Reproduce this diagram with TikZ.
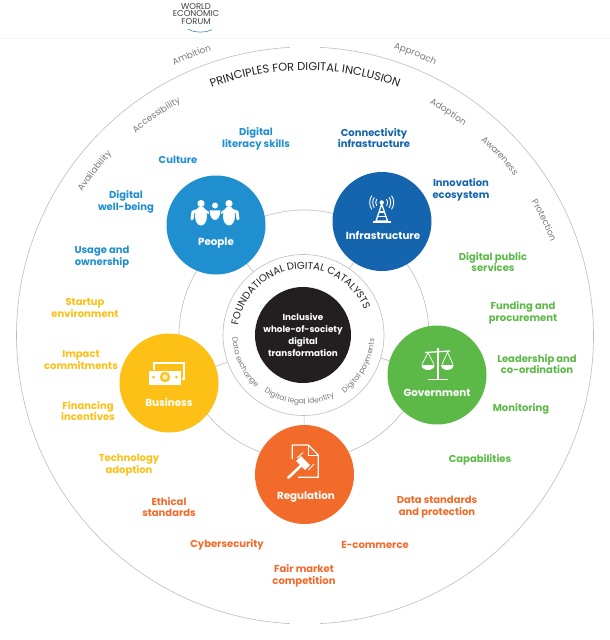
\documentclass[tikz,border=0pt]{standalone}
\usepackage{fontspec}
\setmainfont{Poppins}
\usetikzlibrary{decorations.text}
\definecolor{cPeople}{HTML}{1F8FD0}
\definecolor{cInfra}{HTML}{1565AE}
\definecolor{cGov}{HTML}{5CB947}
\definecolor{cBiz}{HTML}{FDC016}
\definecolor{cReg}{HTML}{F26B2A}
\definecolor{cDark}{HTML}{231F20}
\definecolor{cRing}{HTML}{BDBDBD}
\definecolor{cGrey}{HTML}{7A7A7A}
\newcommand{\lblfont}{\fontsize{10}{11.8}\selectfont\bfseries}
\newcommand{\grayfont}{\fontsize{8.9}{8.9}\selectfont\color{cGrey}}
\newcommand{\smallgray}{\fontsize{7.5}{7.5}\selectfont\color{cGrey}}
\newcommand{\blackfont}{\fontsize{11.4}{11.4}\selectfont\color{cDark}}
\newcommand{\onarc}[5]{\path[decorate,decoration={text along path,text align=center,text={|#5|#4}}]
  (305,-335.5)++(#1+#2:#3) arc[start angle=#1+#2,end angle=#1-#2,radius=#3];}
\tikzset{
  x=1pt,y=1pt,
  lbl/.style={align=center,inner sep=0pt,font=\lblfont},
  hub/.style={circle,inner sep=0pt,minimum size=#1},
  pillar/.style={hub=99},
  captxt/.style={inner sep=0pt,text=white,font=\fontsize{10.3}{10}\selectfont\bfseries},
  rim/.style={draw=cRing,line width=0.6pt},
  icon/.style={draw=white,line width=1.3pt}
}
\begin{document}
\begin{tikzpicture}
\useasboundingbox (0,0) rectangle (610,-640);
\fill[white] (0,0) rectangle (610,-640);
% header
\draw[black!4,line width=0.6pt] (0,-38.5) -- (610,-38.5);
\node[inner sep=0pt,align=center,text=black!75,font=\fontsize{8.5}{7.9}\selectfont] (logo) at (196,-14) {WORLD\\ECONOMIC\\FORUM};
\draw[cPeople!80!black,line width=0.5pt] (188,-29) .. controls (194,-33) and (206,-33) .. (212,-29.5);
% outer ring
\draw[rim] (305,-335.5)++(93:288.5) arc[start angle=93,end angle=267,radius=288.5];
\draw[rim] (305,-335.5)++(273:288.5) arc[start angle=273,end angle=447,radius=288.5];
% middle ring and foundation
\node[hub=250,rim] (ringmid) at (304,-335) {};
\node[hub=161,rim,fill=white] (ringin) at (303.5,-335) {};
\node[hub=96,fill=cDark,text=white,align=center,font=\fontsize{8.8}{12}\selectfont\bfseries] (core) at (303,-335) {Inclusive\\whole-of-society\\digital\\transformation};
% pillars
\node[pillar,fill=cPeople] (people) at (216,-225) {};
\node[pillar,fill=cInfra] (infra) at (382,-221.5) {};
\node[pillar,fill=cBiz] (biz) at (169,-383) {};
\node[pillar,fill=cGov] (gov) at (437,-375) {};
\node[pillar,fill=cReg] (reg) at (304.5,-474.5) {};
% spokes
\foreach \p in {people,infra,biz,gov,reg} \draw[rim] (ringin) -- (\p);
% captions
\node[captxt] (capP) at (216,-243) {People};
\node[captxt] (capI) at (383,-235) {Infrastructure};
\node[captxt] (capB) at (169,-402) {Business};
\node[captxt] (capG) at (437,-393) {Government};
\node[captxt] (capR) at (306,-497) {Regulation};
% arc text
\onarc{90}{60}{265}{PRINCIPLES FOR DIGITAL INCLUSION}{\blackfont}
\onarc{112}{12}{300}{Ambition}{\grayfont}
\onarc{124}{14}{264}{Accessibility}{\grayfont}
\onarc{142}{14}{265}{Availability}{\grayfont}
\onarc{68.6}{12}{300}{Approach}{\grayfont}
\onarc{57.3}{12}{263}{Adoption}{\grayfont}
\onarc{42.7}{12}{263}{Awareness}{\grayfont}
\onarc{25.7}{12}{263}{Protection}{\grayfont}
\path[decorate,decoration={text along path,text align=center,text={|\fontsize{10.1}{10.1}\selectfont\color{cDark}|FOUNDATIONAL DIGITAL CATALYSTS}}]
 (303.5,-335)++(192:66) arc[start angle=192,end angle=2,radius=66];
\path[decorate,decoration={text along path,text align=center,text={|\smallgray|Data exchange}}]
 (303.5,-335)++(165:71) arc[start angle=165,end angle=245,radius=71];
\path[decorate,decoration={text along path,text align=center,text={|\smallgray|Digital legal identity}}]
 (303.5,-335)++(216:69) arc[start angle=216,end angle=316,radius=69];
\path[decorate,decoration={text along path,text align=center,text={|\smallgray|Digital payments}}]
 (303.5,-335)++(291:71) arc[start angle=291,end angle=371,radius=71];
% labels
\begin{scope}[every node/.style={lbl}]
\node[text=cPeople] (l1) at (256,-139) {Digital\\literacy skills};
\node[text=cPeople] (l2) at (178,-160) {Culture};
\node[text=cPeople] (l3) at (126,-202) {Digital\\well-being};
\node[text=cPeople] (l4) at (102,-257) {Usage and\\ownership};
\node[text=cInfra] (l5) at (374,-138) {Connectivity\\infrastructure};
\node[text=cInfra] (l6) at (461,-190) {Innovation\\ecosystem};
\node[text=cGov] (l7) at (493,-262) {Digital public\\services};
\node[text=cGov] (l8) at (523,-313) {Funding and\\procurement};
\node[text=cGov] (l9) at (537,-364) {Leadership and\\co-ordination};
\node[text=cGov] (l10) at (521,-409) {Monitoring};
\node[text=cGov] (l11) at (480,-460) {Capabilities};
\node[text=cBiz] (l12) at (85,-308) {Startup\\environment};
\node[text=cBiz] (l13) at (81,-360) {Impact\\commitments};
\node[text=cBiz] (l14) at (88,-411) {Financing\\incentives};
\node[text=cBiz] (l15) at (129,-465) {Technology\\adoption};
\node[text=cReg] (l16) at (169,-507) {Ethical\\standards};
\node[text=cReg] (l17) at (227,-545) {Cybersecurity};
\node[text=cReg] (l18) at (304,-576) {Fair market\\competition};
\node[text=cReg] (l19) at (375,-545) {E-commerce};
\node[text=cReg] (l20) at (437,-507.5) {Data standards\\and protection};
\end{scope}
% people icon
\fill[white] (201,-203.5) circle (3.6) (229,-203.5) circle (3.6) (215,-205.5) circle (3);
\fill[white] (201,-216) ellipse (6 and 9.5) (229,-216) ellipse (6 and 9.5);
\draw[white,line width=3pt,line cap=round] (199,-210) -- (193,-212) -- (192,-219) (231,-210) -- (237,-212) -- (238,-219);
\draw[white,line width=2.2pt,line cap=round] (204,-210) -- (209,-213) (226,-210) -- (221,-213);
\fill[white,draw=cPeople,line width=0.9pt] (209,-210) .. controls (209,-224) and (221,-224) .. (221,-210) -- cycle;
% infrastructure icon
\fill[white] (381.7,-202.5) circle (2.2);
\draw[icon,line join=round] (381.7,-204) -- (376,-221) -- (387.5,-221) -- cycle;
\draw[icon] (378.8,-212) -- (384.8,-212) (377.5,-216.5) -- (386,-216.5);
\draw[icon,line width=1.8pt] (372.7,-221.8) -- (390.5,-221.8);
\draw[white,line width=0.9pt]
 (381.7,-202.5)++(145:6) arc[start angle=145,end angle=215,radius=6]
 (381.7,-202.5)++(145:9) arc[start angle=145,end angle=215,radius=9]
 (381.7,-202.5)++(145:12) arc[start angle=145,end angle=215,radius=12]
 (381.7,-202.5)++(-35:6) arc[start angle=-35,end angle=35,radius=6]
 (381.7,-202.5)++(-35:9) arc[start angle=-35,end angle=35,radius=9]
 (381.7,-202.5)++(-35:12) arc[start angle=-35,end angle=35,radius=12];
% business icon
\fill[white] (153,-362) rectangle (185,-380);
\fill[cBiz] (155,-364) rectangle (183,-378);
\fill[white] (149,-370) rectangle (181,-385);
\draw[cBiz,line width=0.9pt] (149,-370) -- (181,-370) -- (181,-385);
\fill[cBiz] (165,-377) circle (5.2);
\fill[white!70!cBiz] (165,-377) circle (2.8);
\fill[cBiz] (153.5,-377) circle (1.5) (176.5,-377) circle (1.5);
% government icon
\draw[icon,line width=1.6pt] (437.7,-348) -- (437.7,-379.5) (427.7,-379.5) -- (447.7,-379.5);
\draw[icon] (425,-352.5) -- (450,-351);
\draw[white,line width=0.8pt,line join=round] (422,-364.5) -- (428,-352.5) -- (434,-364.5) (442,-364.5) -- (447.5,-352) -- (453,-364.5);
\fill[white] (421.5,-365) arc[start angle=180,end angle=360,x radius=6.5,y radius=5] -- cycle;
\fill[white] (441,-365) arc[start angle=180,end angle=360,x radius=6.3,y radius=5] -- cycle;
% regulation icon
\draw[icon,line join=round] (292.3,-459) -- (292.3,-445) -- (308.3,-445) -- (318.3,-455) -- (318.3,-477.3) -- (298,-477.3);
\draw[icon,line width=1pt,line join=round] (308.3,-445) -- (308.3,-455) -- (318.3,-455);
\draw[cReg,line width=4pt,line cap=round] (288.3,-477.7) -- (301.7,-465);
\draw[white,line width=2.6pt,line cap=round] (288.3,-477.7) -- (301.7,-465);
\draw[white,line width=7pt] (298.5,-458.5) -- (307.5,-467.5);
\draw[white,line width=0.9pt] (297,-458) -- (303,-452.5) (308.5,-470) -- (314,-464);
\end{tikzpicture}
\end{document}
